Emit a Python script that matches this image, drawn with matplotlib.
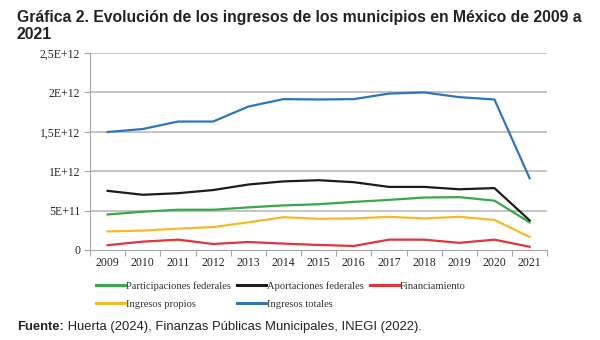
import matplotlib.pyplot as plt
import numpy as np

# Ingresos municipales en México, 2009-2021 (pesos)
years = [str(y) for y in range(2009, 2022)]
participaciones = [0.45e12, 0.485e12, 0.51e12, 0.51e12, 0.54e12, 0.565e12, 0.58e12,
                   0.61e12, 0.635e12, 0.665e12, 0.67e12, 0.625e12, 0.35e12]
aportaciones = [0.75e12, 0.70e12, 0.72e12, 0.76e12, 0.83e12, 0.87e12, 0.885e12,
                0.86e12, 0.80e12, 0.80e12, 0.77e12, 0.785e12, 0.375e12]
financiamiento = [0.06e12, 0.105e12, 0.13e12, 0.075e12, 0.10e12, 0.08e12, 0.063e12,
                  0.05e12, 0.13e12, 0.13e12, 0.09e12, 0.13e12, 0.04e12]
propios = [0.235e12, 0.245e12, 0.27e12, 0.29e12, 0.35e12, 0.415e12, 0.395e12,
           0.40e12, 0.42e12, 0.40e12, 0.42e12, 0.38e12, 0.165e12]
totales = [1.497e12, 1.535e12, 1.63e12, 1.63e12, 1.82e12, 1.915e12, 1.91e12,
           1.915e12, 1.985e12, 2.0e12, 1.94e12, 1.91e12, 0.91e12]

yticks = [0, 0.5e12, 1e12, 1.5e12, 2e12, 2.5e12]
ytick_labels = ['0', '5E+11', '1E+12', '1,5E+12', '2E+12', '2,5E+12']

fig = plt.figure(figsize=(6, 3.4), dpi=100)
ax = fig.add_axes([0.15, 0.265, 0.762, 0.579])

x = np.arange(len(years))
serif = 'Liberation Serif'
sans = 'Liberation Sans'
lw = 1.6

l_part, = ax.plot(x, participaciones, color='#3aa84a', lw=lw)
l_aport, = ax.plot(x, aportaciones, color='#1c1c1c', lw=lw)
l_fin, = ax.plot(x, financiamiento, color='#e2343a', lw=lw)
l_prop, = ax.plot(x, propios, color='#f7b928', lw=lw)
l_tot, = ax.plot(x, totales, color='#2f74bd', lw=lw)

ax.set_xlim(-0.5, len(years) - 0.5)
ax.set_ylim(0, 2.5e12)

ax.set_yticks(yticks)
ax.set_yticklabels(ytick_labels, fontfamily=serif, fontsize=8.5, color='#262626')
ax.set_xticks(x)
ax.set_xticklabels(years, fontfamily=serif, fontsize=8.5, color='#262626')
ax.tick_params(axis='x', length=0, pad=5)
ax.tick_params(axis='y', length=4, width=0.8, color='#a6a6a6', pad=3)

# marcas del eje x entre categorías, al estilo de Excel
ax.set_xticks(np.arange(-0.5, len(years)), minor=True)
ax.tick_params(axis='x', which='minor', length=4, width=0.8, color='#a6a6a6')

for v in yticks[1:]:
    ax.axhline(v, color='#b4b4b4', lw=1.1, zorder=0)

for side in ['top', 'right']:
    ax.spines[side].set_visible(False)
ax.spines['left'].set_color('#a6a6a6')
ax.spines['bottom'].set_color('#a6a6a6')

fig.text(0.028, 0.972,
         'Gráfica 2. Evolución de los ingresos de los municipios en México de 2009 a\n2021',
         fontfamily=sans, fontweight='bold', fontsize=11.3, color='#222222',
         va='top', ha='left', linespacing=1.2)

handles = [l_part, l_prop, l_aport, l_tot, l_fin]
labels = ['Participaciones federales', 'Ingresos propios', 'Aportaciones federales',
          'Ingresos totales', 'Financiamiento']
leg = fig.legend(handles, labels, ncol=3, loc='upper left',
                 bbox_to_anchor=(0.152, 0.185), frameon=False,
                 prop={'family': serif, 'size': 7.6}, handlelength=2.75,
                 handletextpad=0.1, columnspacing=0.55, labelspacing=0.85,
                 borderpad=0.2)
for h in leg.get_lines():
    h.set_linewidth(2.2)
for t in leg.get_texts():
    t.set_color('#333333')
leg.set_bbox_to_anchor((0.148, 0.195), transform=fig.transFigure)

# línea de fuente: parte en negrita seguida del texto normal
fuente = fig.text(0.028, 0.03, 'Fuente:', fontfamily=sans, fontweight='bold',
                  fontsize=9.4, va='baseline', color='#222222')
r = fig.canvas.get_renderer()
w = fuente.get_window_extent(r).width / fig.bbox.width
fig.text(0.028 + w, 0.03, ' Huerta (2024), Finanzas Públicas Municipales, INEGI (2022).',
         fontfamily=sans, fontsize=9.4, va='baseline', color='#222222')

fig.savefig('out.png', dpi=100)
